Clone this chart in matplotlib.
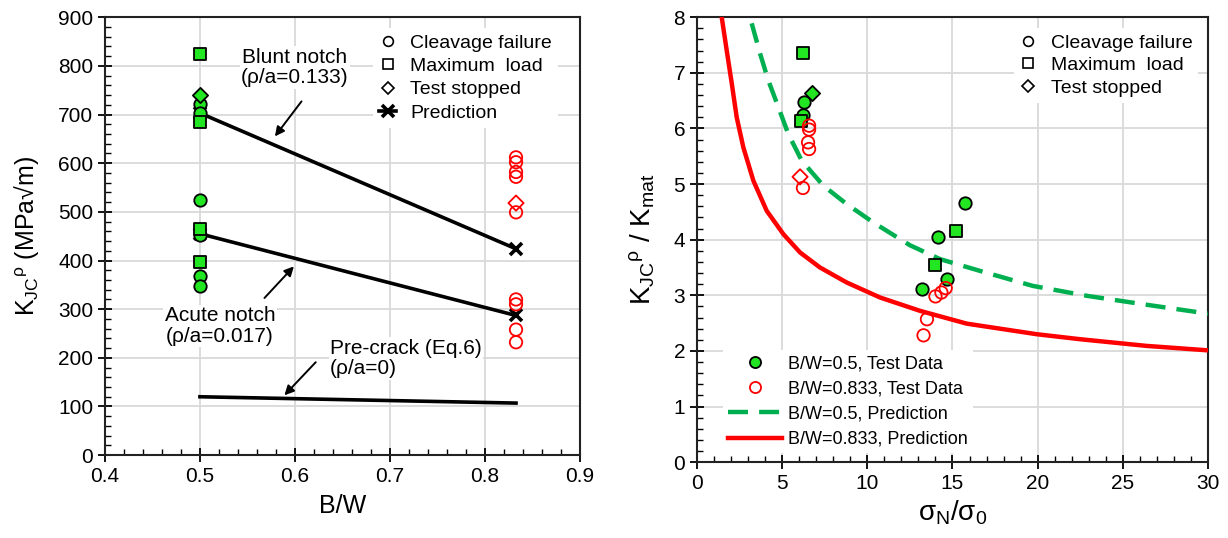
import matplotlib
matplotlib.use("Agg")
from matplotlib import pyplot as plt
from matplotlib.lines import Line2D
from matplotlib.ticker import MultipleLocator

plt.rcParams['font.family'] = ['Liberation Sans', 'DejaVu Sans']
plt.rcParams['mathtext.fontset'] = 'custom'
plt.rcParams['mathtext.rm'] = 'Liberation Sans'
plt.rcParams['mathtext.it'] = 'Liberation Sans'

GREEN = '#22e622'
DGREEN = '#00b050'
RED = '#ff0000'

# ---- left panel data: K_JC^rho vs B/W ----
bw_low, bw_high = 0.5, 0.833
g_circle_K = [721, 703, 524, 452, 368, 347]
g_square_K = [824, 684, 464, 397]
g_diamond_K = [740]
r_circle_K = [612, 602, 582, 572, 499, 320, 310, 258, 232]
r_diamond_K = [518]
bw_line = [0.5, 0.833]
blunt_pred = [703, 424]
acute_pred = [455, 287]
precrack_pred = [120, 107]

# ---- right panel data: K_JC^rho/K_mat vs sigma_N/sigma_0 ----
g_circle_s = [6.28, 6.22, 15.74, 14.15, 14.68, 13.21]
g_circle_r = [6.47, 6.25, 4.66, 4.04, 3.30, 3.12]
g_square_s = [6.22, 6.10, 15.2, 13.98]
g_square_r = [7.35, 6.13, 4.15, 3.55]
g_diamond_s = [6.75]
g_diamond_r = [6.63]
r_circle_s = [6.58, 6.58, 6.52, 6.58, 6.22, 14.6, 14.35, 14.0, 13.5, 13.3]
r_circle_r = [6.05, 5.98, 5.75, 5.63, 4.93, 3.13, 3.05, 2.98, 2.57, 2.28]
r_diamond_s = [6.05]
r_diamond_r = [5.13]

pred05_s = [3.21, 3.70, 4.19, 4.78, 5.36, 6.15, 7.42, 8.79, 10.35, 12.5, 14.27, 16.6,
            19.7, 22.9, 26.4, 30.0]
pred05_r = [7.89, 7.35, 6.86, 6.38, 5.90, 5.42, 4.97, 4.64, 4.31, 3.90, 3.65, 3.44,
            3.17, 2.99, 2.83, 2.67]
pred0833_s = [1.45, 1.74, 2.04, 2.33, 2.72, 3.31, 4.09, 5.07, 6.05, 7.22, 8.79, 10.75,
              13.1, 15.84, 19.95, 22.5, 26.4, 30.0]
pred0833_r = [8.0, 7.41, 6.81, 6.20, 5.66, 5.06, 4.52, 4.10, 3.77, 3.50, 3.23, 2.96,
              2.72, 2.49, 2.30, 2.21, 2.09, 2.01]

fig = plt.figure(figsize=(12.28, 5.38), dpi=100)
ax1 = fig.add_axes([0.0855, 0.154, 0.3865, 0.814])
ax2 = fig.add_axes([0.5676, 0.141, 0.4161, 0.827])


def style_axes(ax):
    ax.grid(True, which='major', color='#d9d9d9', lw=1.3)
    ax.set_axisbelow(True)
    for s in ax.spines.values():
        s.set_linewidth(1.5)
        s.set_color('#222222')
    ax.tick_params(which='major', direction='inout', length=10, width=1.3,
                   labelsize=15, top=False, right=False)
    ax.tick_params(which='minor', direction='in', length=4, width=1.0,
                   top=False, right=False)


mk = dict(s=80, linewidths=1.3, zorder=4)
dash = (0, (4.5, 2.5))

# left
style_axes(ax1)
ax1.plot(bw_line, blunt_pred, color='k', lw=2.6, marker='x', ms=9, mew=2.6, zorder=3)
ax1.plot(bw_line, acute_pred, color='k', lw=2.6, marker='x', ms=9, mew=2.6, zorder=3)
ax1.plot(bw_line, precrack_pred, color='k', lw=2.6, zorder=3)
ax1.scatter([bw_low] * len(g_circle_K), g_circle_K, marker='o', c=GREEN, edgecolors='k', **mk)
ax1.scatter([bw_low] * len(g_square_K), g_square_K, marker='s', c=GREEN, edgecolors='k', **mk)
ax1.scatter([bw_low] * len(g_diamond_K), g_diamond_K, marker='D', c=GREEN, edgecolors='k',
            s=60, linewidths=1.3, zorder=4)
ax1.scatter([bw_high] * len(r_circle_K), r_circle_K, marker='o', facecolors='none',
            edgecolors=RED, **mk)
ax1.scatter([bw_high] * len(r_diamond_K), r_diamond_K, marker='D', facecolors='none',
            edgecolors=RED, s=60, linewidths=1.3, zorder=4)
ax1.set_xlim(0.4, 0.9)
ax1.set_ylim(0, 900)
ax1.xaxis.set_major_locator(MultipleLocator(0.1))
ax1.xaxis.set_minor_locator(MultipleLocator(0.02))
ax1.yaxis.set_major_locator(MultipleLocator(100))
ax1.yaxis.set_minor_locator(MultipleLocator(20))
ax1.set_xlabel('B/W', fontsize=18, labelpad=6)
ax1.set_ylabel(r'K$_{\mathrm{JC}}$$^{\mathrm{ρ}}$ (MPa√m)', fontsize=18, labelpad=12)

box = dict(facecolor='white', edgecolor='none', pad=1)
ap = dict(arrowstyle='-|>', color='k', lw=1.4, mutation_scale=14, shrinkA=0, shrinkB=0)
ax1.text(0.6, 797, 'Blunt notch\n(ρ/a=0.133)', ha='center', va='center', fontsize=15,
         bbox=box, linespacing=1.1)
ax1.annotate('', xy=(0.579, 655), xytext=(0.607, 727), arrowprops=ap)
ax1.text(0.521, 265, 'Acute notch\n(ρ/a=0.017)', ha='center', va='center', fontsize=15,
         bbox=box, linespacing=1.1)
ax1.annotate('', xy=(0.599, 388), xytext=(0.568, 323), arrowprops=ap)
ax1.text(0.637, 199, 'Pre-crack (Eq.6)\n(ρ/a=0)', ha='left', va='center', fontsize=15,
         bbox=box, linespacing=1.1)
ax1.annotate('', xy=(0.589, 123), xytext=(0.622, 191), arrowprops=ap)

leg_handles = [
    Line2D([], [], ls='none', marker='o', mfc='none', mec='k', ms=7, mew=1.2),
    Line2D([], [], ls='none', marker='s', mfc='none', mec='k', ms=7, mew=1.2),
    Line2D([], [], ls='none', marker='D', mfc='none', mec='k', ms=6, mew=1.2),
]
leg_labels = ['Cleavage failure', 'Maximum  load', 'Test stopped']
pred_handle = Line2D([], [], color='k', lw=2.6, marker='x', ms=8, mew=2.6,
                     markevery=[0])
ax1.legend(leg_handles + [pred_handle], leg_labels + ['Prediction'],
           loc='upper left', bbox_to_anchor=(0.565, 0.975), frameon=True,
           fancybox=False, edgecolor='none', framealpha=1, fontsize=14,
           handlelength=0.9, handletextpad=0.7, labelspacing=0.3,
           borderaxespad=0, borderpad=0.3)

# right
style_axes(ax2)
ax2.plot(pred05_s, pred05_r, color=DGREEN, lw=3.2, ls=dash, zorder=3)
ax2.plot(pred0833_s, pred0833_r, color=RED, lw=3.2, zorder=3)
ax2.scatter(g_circle_s, g_circle_r, marker='o', c=GREEN, edgecolors='k', **mk)
ax2.scatter(g_square_s, g_square_r, marker='s', c=GREEN, edgecolors='k', **mk)
ax2.scatter(g_diamond_s, g_diamond_r, marker='D', c=GREEN, edgecolors='k', s=60,
            linewidths=1.3, zorder=4)
ax2.scatter(r_circle_s, r_circle_r, marker='o', facecolors='none', edgecolors=RED, **mk)
ax2.scatter(r_diamond_s, r_diamond_r, marker='D', facecolors='none', edgecolors=RED,
            s=60, linewidths=1.3, zorder=4)
ax2.set_xlim(0, 30)
ax2.set_ylim(0, 8)
ax2.xaxis.set_major_locator(MultipleLocator(5))
ax2.xaxis.set_minor_locator(MultipleLocator(1))
ax2.yaxis.set_major_locator(MultipleLocator(1))
ax2.yaxis.set_minor_locator(MultipleLocator(0.2))
ax2.set_xlabel(r'σ$_{\mathrm{N}}$/σ$_{\mathrm{0}}$', fontsize=20, labelpad=4)
ax2.set_ylabel(r'K$_{\mathrm{JC}}$$^{\mathrm{ρ}}$ / K$_{\mathrm{mat}}$', fontsize=20,
               labelpad=12)

leg2 = ax2.legend(leg_handles, leg_labels, loc='upper left', bbox_to_anchor=(0.62, 0.975),
                  frameon=True, fancybox=False, edgecolor='none', framealpha=1,
                  fontsize=14, handlelength=0.9, handletextpad=0.7, labelspacing=0.25,
                  borderaxespad=0, borderpad=0.3)
ax2.add_artist(leg2)
data_handles = [
    Line2D([], [], ls='none', marker='o', mfc=GREEN, mec='k', ms=8, mew=1.3),
    Line2D([], [], ls='none', marker='o', mfc='none', mec=RED, ms=8, mew=1.3),
    Line2D([], [], color=DGREEN, lw=3.2, ls=dash),
    Line2D([], [], color=RED, lw=3.2),
]
data_labels = ['B/W=0.5, Test Data', 'B/W=0.833, Test Data',
               'B/W=0.5, Prediction', 'B/W=0.833, Prediction']
ax2.legend(data_handles, data_labels, loc='lower left', bbox_to_anchor=(0.05, 0.02),
           frameon=True, fancybox=False, edgecolor='none', framealpha=1, fontsize=13,
           handlelength=3.0, handletextpad=0.3, labelspacing=0.45, borderaxespad=0,
           borderpad=0.3)

fig.savefig('out.png', dpi=100)
